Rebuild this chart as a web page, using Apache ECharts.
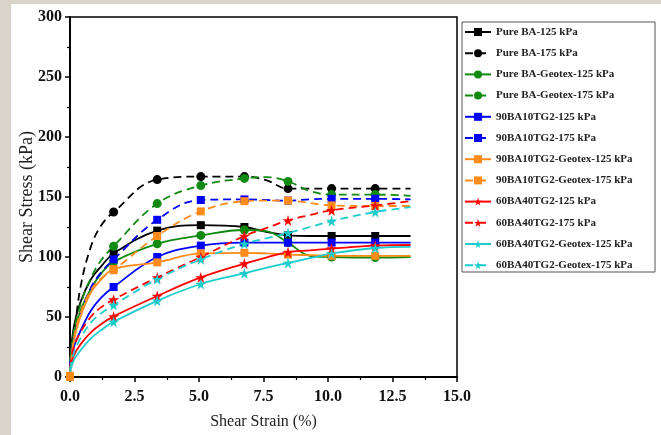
<!DOCTYPE html>
<html><head><meta charset="utf-8">
<script src="https://cdn.jsdelivr.net/npm/echarts@6/dist/echarts.min.js"></script>
<style>html,body{margin:0;padding:0;background:#d9d4c9}#c{width:661px;height:435px}</style>
</head><body><div id="c"></div>
<script>
var strain = [0, 0.15, 0.4, 0.8, 1.2, 1.69, 3.38, 5.07, 6.76, 7.6, 8.45, 9.3, 10.14, 11.83, 13.2];
var markerIdx = [5, 6, 7, 8, 10, 12, 13];
var names = ['Pure BA-125 kPa','Pure BA-175 kPa','Pure BA-Geotex-125 kPa','Pure BA-Geotex-175 kPa',
 '90BA10TG2-125 kPa','90BA10TG2-175 kPa','90BA10TG2-Geotex-125 kPa','90BA10TG2-Geotex-175 kPa',
 '60BA40TG2-125 kPa','60BA40TG2-175 kPa','60BA40TG2-Geotex-125 kPa','60BA40TG2-Geotex-175 kPa'];
var pureBA125   = [12, 42, 62, 81, 92, 103, 122, 126.5, 125, 121, 118, 117.5, 117.5, 117.5, 117.5];
var pureBA175   = [10, 33, 74, 108, 126, 137.5, 164.5, 167, 167, 164, 157, 157, 157, 157, 157];
var pureGeo125  = [12, 35, 55, 73, 86, 96, 111, 118, 122.5, 121.5, 112, 101, 100, 99.5, 100];
var pureGeo175  = [12, 38, 60, 82, 97, 109, 144.5, 159.5, 165.5, 166.5, 163, 155, 152, 152, 151];
var tg90_125    = [8, 25, 38, 55, 66, 75, 100, 109.5, 112, 112, 112, 112, 112, 112, 112];
var tg90_175    = [10, 32, 52, 74, 87, 98, 131, 147.5, 148, 147.5, 147, 148, 148.5, 148.5, 148];
var tg90Geo125  = [1, 30, 50, 70, 81, 90, 95.5, 103, 103.5, 103, 102, 101.5, 101, 101, 101];
var tg90Geo175  = [0, 32, 53, 72, 82, 89, 117.5, 138, 146.5, 147, 147, 145, 143, 142.5, 142.5];
var tg60_125    = [6, 18, 27, 37, 44, 50.5, 67.5, 83, 94.5, 99.5, 104, 105.5, 107, 109.5, 110];
var tg60_175    = [8, 25, 37, 50, 58, 64.5, 83, 100, 117.5, 124, 130.5, 135, 139, 143, 146.5];
var tg60Geo125  = [4, 14, 22, 32, 39, 46, 63.5, 77.5, 86.5, 91, 95, 99, 103, 107.5, 108.5];
var tg60Geo175  = [6, 20, 32, 45, 53, 60, 81.5, 98, 111, 115.5, 120, 125, 130, 137.5, 141.5];
var allValues = [pureBA125, pureBA175, pureGeo125, pureGeo175, tg90_125, tg90_175, tg90Geo125, tg90Geo175, tg60_125, tg60_175, tg60Geo125, tg60Geo175];
var colors = ['#000000','#000000','#108a10','#108a10','#0000ff','#0000ff','#ff8c1a','#ff8c1a','#ff0000','#ff0000','#1ccccc','#1ccccc'];
var star = 'path://M50,0 L61,35 L98,35 L68,57 L79,91 L50,70 L21,91 L32,57 L2,35 L39,35 Z';
var symbols = ['rect','circle','circle','circle','rect','rect','rect','rect',star,star,star,star];
var symSizes = [8,9,9,9,8,8,8,8,11,11,11,11];
var dashed = [false,true,false,true,false,true,false,true,false,true,false,true];
var zeroMarker = [false,false,false,false,false,false,true,true,false,false,false,false];

var font = 'Liberation Serif';
var series = names.map(function(n, i){
  var vals = allValues[i];
  return {
    name: n, type: 'line', smooth: 0.4,
    data: strain.map(function(x, j){ return [x, vals[j]]; }),
    symbol: symbols[i], showAllSymbol: true,
    symbolSize: function(v, p){ return (markerIdx.indexOf(p.dataIndex) >= 0 || (p.dataIndex === 0 && zeroMarker[i])) ? symSizes[i] : 0; },
    lineStyle: { color: colors[i], width: 1.8, type: dashed[i] ? [8,5] : 'solid' },
    itemStyle: { color: colors[i] },
    emphasis: { disabled: true }
  };
});

var chart = echarts.init(document.getElementById('c'));
chart.setOption({
  backgroundColor: '#d9d4c9',
  animation: false,
  color: colors,
  graphic: [
    { type: 'rect', z: -10, shape: { x: 11, y: 4, width: 650, height: 431 }, style: { fill: '#ffffff' } },
    { type: 'rect', z: 10, shape: { x: 462, y: 22, width: 193, height: 250 }, style: { fill: 'none', stroke: '#555', lineWidth: 1 } }
  ],
  grid: { left: 70, right: 204, top: 17, bottom: 57, show: true, borderColor: '#000', borderWidth: 1.5, backgroundColor: 'transparent' },
  legend: {
    orient: 'vertical', left: 464, top: 25, padding: 0,
    itemWidth: 26, itemHeight: 10, itemGap: 7.2,
    textStyle: { fontFamily: font, fontWeight: 'bold', fontSize: 11, color: '#222', lineHeight: 14 },
    data: names
  },
  xAxis: {
    type: 'value', min: 0, max: 15, interval: 2.5,
    name: 'Shear Strain (%)', nameLocation: 'middle', nameGap: 37, nameMoveOverlap: false,
    nameTextStyle: { fontFamily: font, fontSize: 16, color: '#222' },
    axisLine: { lineStyle: { color: '#000', width: 2 } },
    axisTick: { show: true, length: 5, lineStyle: { color: '#000', width: 1.5 } },
    minorTick: { show: true, splitNumber: 2, length: 3, lineStyle: { color: '#000', width: 1.2 } },
    splitLine: { show: false },
    axisLabel: { fontFamily: font, fontWeight: 'bold', fontSize: 16, color: '#111', margin: 12,
      formatter: function(v){ return v.toFixed(1); } }
  },
  yAxis: {
    type: 'value', min: 0, max: 300, interval: 50,
    name: 'Shear Stress (kPa)', nameLocation: 'middle', nameGap: 34, nameMoveOverlap: false,
    nameTextStyle: { fontFamily: font, fontSize: 18, color: '#222' },
    axisLine: { show: true, lineStyle: { color: '#000', width: 2 } },
    axisTick: { show: true, length: 5, lineStyle: { color: '#000', width: 1.5 } },
    minorTick: { show: true, splitNumber: 2, length: 3, lineStyle: { color: '#000', width: 1.2 } },
    splitLine: { show: false },
    axisLabel: { fontFamily: font, fontWeight: 'bold', fontSize: 16, color: '#111', margin: 8 }
  },
  series: series
});
</script></body></html>
